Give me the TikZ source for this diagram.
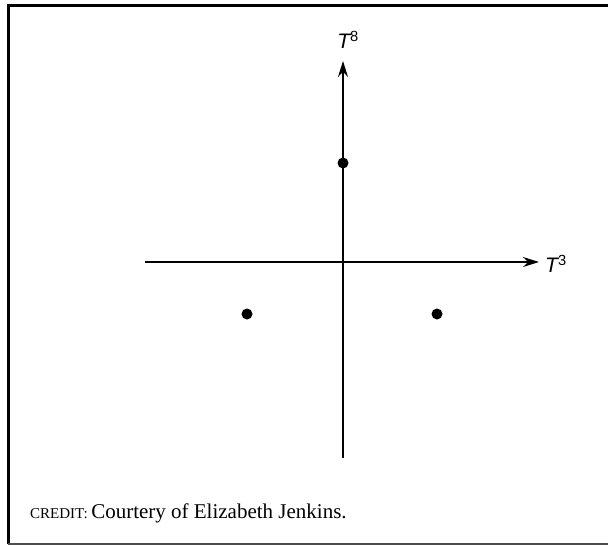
\documentclass[tikz,border=0pt]{standalone}
\usepackage{fontspec}
\setmainfont{Liberation Serif}
\setsansfont{Liberation Sans}
\usetikzlibrary{arrows.meta,positioning}
\begin{document}
\begin{tikzpicture}[x=1pt,y=-1pt]
		\tikzstyle{every node}=[font=\fontsize{21pt}{23pt}\selectfont]
		\tikzstyle{axis}=[line width=1.3pt, -{Stealth[length=16pt,width=10pt]}]
		\tikzstyle{weight}=[circle, fill=black, inner sep=0pt, minimum size=11pt]
		\useasboundingbox (0,0) rectangle (608,546);
		% frame
		\draw [line width=3pt] (8,544) -- (8,5) -- (608,5);
		\draw [line width=1.2pt, black!70] (8,544) -- (608,544);
		% axes
		\coordinate (xstart) at (145,262);
		\coordinate (xend) at (539,262);
		\coordinate (ystart) at (343,458);
		\coordinate (yend) at (343,61);
		\draw [axis] (xstart) -- (xend);
		\draw [axis] (ystart) -- (yend);
		\node [anchor=west, inner sep=2pt] (tthree) at (543,264) {\sffamily\itshape T\textsuperscript{\upshape 3}};
		\node [anchor=south, inner sep=2pt] (teight) at (348,51) {\sffamily\itshape T\textsuperscript{\upshape 8}};
		% weights
		\node [weight] (top) at (343,163) {};
		\node [weight] (left) at (247,314) {};
		\node [weight] (right) at (437,314) {};
		% credit
		\node [anchor=base west, inner sep=0pt] (credit) at (30,518) {{\fontsize{15pt}{16pt}\selectfont CREDIT:}\,Courtery of Elizabeth Jenkins.};
	\end{tikzpicture}
\end{document}
